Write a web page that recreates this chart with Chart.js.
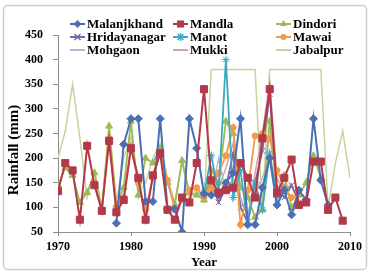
<!DOCTYPE html>
<html><head><meta charset="utf-8">
<script src="https://cdn.jsdelivr.net/npm/chart.js@4/dist/chart.umd.min.js"></script>
<style>html,body{margin:0;padding:0;background:#fff;}#wrap{position:relative;width:371px;height:275px;}</style>
</head><body><div id="wrap"><canvas id="c" width="371" height="275"></canvas></div>
<script>
const years = [1970,1971,1972,1973,1974,1975,1976,1977,1978,1979,1980,1981,1982,1983,1984,1985,1986,1987,1988,1989,1990,1991,1992,1993,1994,1995,1996,1997,1998,1999,2000,2001,2002,2003,2004,2005,2006,2007,2008,2009,2010];
const yTicks = [50,100,150,200,250,300,350,400,450];
const xTicks = [1970,1980,1990,2000,2010];
const seriesNames = ["Malanjkhand","Mandla","Dindori","Hridayanagar","Manot","Mawai","Mohgaon","Mukki","Jabalpur"];
const malanjkhand = [null,null,null,null,null,null,null,null,68,228,280,280,112,112,280,97,97,50,280,220,128,125,125,150,170,280,65,65,140,200,105,135,85,135,115,280,155,105,null,null,null];
const mandla = [133,190,175,75,225,145,93,235,90,115,220,160,75,165,210,95,75,120,110,190,340,155,130,135,140,190,160,120,240,340,130,160,197,105,110,193,193,95,120,73,null];
const dindori = [145,180,165,110,130,170,95,265,105,140,275,125,200,190,220,150,105,195,130,125,115,175,150,275,250,140,120,80,95,275,125,165,100,125,150,205,160,null,null,null,null];
const hridayanagar = [null,null,null,null,null,null,null,null,null,null,null,null,null,null,null,null,null,null,null,null,130,150,110,140,210,100,70,150,215,330,140,120,145,110,null,null,null,null,null,null,null];
const manot = [null,null,null,null,null,null,null,null,null,null,null,null,null,null,null,null,null,null,null,null,125,205,130,400,120,175,65,150,95,210,120,140,null,null,null,null,null,null,null,null,null];
const mawai = [null,null,null,null,null,150,95,240,100,120,225,150,95,160,210,155,95,115,135,140,120,140,170,205,262,65,135,245,250,240,175,140,120,null,null,null,null,null,null,null,null];
const mohgaon = [null,null,null,null,null,null,null,null,null,null,null,null,null,null,null,null,null,null,null,null,150,120,200,130,160,110,90,130,160,200,100,150,null,null,null,null,null,null,null,null,null];
const mukki = [null,null,null,null,null,null,null,null,null,null,null,null,null,null,null,null,null,null,null,null,null,null,140,180,230,120,80,170,250,355,160,130,150,null,null,null,null,null,null,null,null];
const jabalpur = [200,255,350,240,120,175,100,250,110,200,245,130,150,200,230,160,110,195,115,140,110,380,380,380,380,380,380,380,90,380,380,380,380,380,380,380,380,100,190,255,160];

const styles = [
  {color:'#4A6FB5', point:'diamond', r:4, w:2, order:2},
  {color:'#B3394A', point:'square', r:5, w:2, order:1},
  {color:'#9BBB59', point:'triangle', r:4, w:1.8, order:5},
  {color:'#7E64A0', point:'x', r:4, w:1.8, order:6},
  {color:'#3FA8C0', point:'star', r:4, w:1.8, order:3},
  {color:'#F39A4A', point:'circle', r:3, w:1.8, order:4},
  {color:'#A9BCDB', point:'none', r:0, w:1.5, order:7},
  {color:'#D5A4A3', point:'none', r:0, w:1.5, order:8},
  {color:'#C6D49C', point:'none', r:0, w:1.5, order:9}
];
const values = [malanjkhand, mandla, dindori, hridayanagar, manot, mawai, mohgaon, mukki, jabalpur];
const cjsStyle = {diamond:'rectRot', square:'rect', triangle:'triangle', x:'crossRot', star:'star', circle:'circle', none:false};

const datasets = values.map((vals, i) => {
  const s = styles[i];
  return {
    label: seriesNames[i],
    data: years.map((y, k) => ({x: y, y: vals[k]})),
    borderColor: s.color,
    backgroundColor: s.color,
    borderWidth: s.w,
    pointStyle: cjsStyle[s.point],
    pointRadius: s.r,
    pointBorderWidth: 1,
    pointBorderColor: s.color,
    pointBackgroundColor: s.color,
    spanGaps: false,
    tension: 0,
    order: s.order
  };
});

function drawMarker(ctx, type, x, y, r, color) {
  ctx.save();
  ctx.fillStyle = color; ctx.strokeStyle = color; ctx.lineWidth = 1.5;
  ctx.beginPath();
  if (type === 'square') { const a = r * Math.SQRT1_2; ctx.rect(x - a, y - a, 2 * a, 2 * a); ctx.fill(); }
  else if (type === 'diamond') { ctx.moveTo(x, y - r); ctx.lineTo(x + r, y); ctx.lineTo(x, y + r); ctx.lineTo(x - r, y); ctx.closePath(); ctx.fill(); }
  else if (type === 'triangle') { ctx.moveTo(x, y - r); ctx.lineTo(x + r * 0.87, y + r * 0.5); ctx.lineTo(x - r * 0.87, y + r * 0.5); ctx.closePath(); ctx.fill(); }
  else if (type === 'circle') { ctx.arc(x, y, r, 0, Math.PI * 2); ctx.fill(); }
  else if (type === 'x') { const a = r * 0.75; ctx.moveTo(x - a, y - a); ctx.lineTo(x + a, y + a); ctx.moveTo(x + a, y - a); ctx.lineTo(x - a, y + a); ctx.stroke(); }
  else if (type === 'star') { const a = r * 0.75; ctx.moveTo(x - a, y - a); ctx.lineTo(x + a, y + a); ctx.moveTo(x + a, y - a); ctx.lineTo(x - a, y + a); ctx.moveTo(x, y - r); ctx.lineTo(x, y + r); ctx.stroke(); }
  ctx.restore();
}

const decor = {
  id: 'decor',
  beforeDraw(chart) {
    const ctx = chart.ctx;
    ctx.save();
    ctx.fillStyle = '#fff'; ctx.fillRect(0, 0, chart.width, chart.height);
    ctx.strokeStyle = '#C9CDD0'; ctx.lineWidth = 1.5;
    ctx.beginPath();
    if (ctx.roundRect) ctx.roundRect(3.5, 5.5, 363, 264, 4); else ctx.rect(3.5, 5.5, 363, 264);
    ctx.stroke();
    ctx.restore();
  },
  afterDraw(chart) {
    const ctx = chart.ctx;
    ctx.save();
    // y-axis title
    ctx.translate(14, 150);
    ctx.rotate(-Math.PI / 2);
    ctx.font = 'bold 15px "Liberation Serif"';
    ctx.fillStyle = '#000'; ctx.textAlign = 'center'; ctx.textBaseline = 'middle';
    ctx.fillText('Rainfall (mm)', 0, 0);
    ctx.restore();
    // legend
    const colX = [70, 173, 276];
    const rowY = [24, 37, 50];
    ctx.save();
    ctx.font = 'bold 13px "Liberation Serif"';
    ctx.textBaseline = 'middle'; ctx.textAlign = 'left'; 
    seriesNames.forEach((name, i) => {
      const s = styles[i];
      const x = colX[i % 3], y = rowY[Math.floor(i / 3)];
      ctx.strokeStyle = s.color; ctx.lineWidth = 2;
      ctx.beginPath(); ctx.moveTo(x, y); ctx.lineTo(x + 15, y); ctx.stroke();
      if (s.point !== 'none') drawMarker(ctx, s.point, x + 7.5, y, s.r, s.color);
      ctx.fillStyle = '#000';
      ctx.fillText(name, x + 17, y + 0.5);
    });
    ctx.restore();
  }
};

new Chart(document.getElementById('c'), {
  type: 'line',
  data: { datasets },
  options: {
    responsive: false,
    animation: false,
    events: [],
    layout: { padding: { top: 35, right: 21, bottom: 5, left: 0 } },
    plugins: { legend: { display: false }, tooltip: { enabled: false } },
    scales: {
      x: {
        type: 'linear', min: 1970, max: 2010,
        afterBuildTicks: s => { s.ticks = xTicks.map(v => ({value: v})); },
        afterFit: s => { s.height = 38; },
        ticks: { color: '#000', font: { family: 'Liberation Serif', size: 12, weight: 'bold' }, padding: 4, maxRotation: 0, callback: v => String(v) },
        grid: { drawOnChartArea: false, drawTicks: true, tickLength: 4, color: '#8C8C8C' },
        border: { display: true, color: '#8C8C8C', width: 1 },
        title: { display: true, text: 'Year', color: '#000', font: { family: 'Liberation Serif', size: 13, weight: 'bold' }, padding: { top: 0, bottom: 0 } }
      },
      y: {
        type: 'linear', min: 50, max: 450,
        afterBuildTicks: s => { s.ticks = yTicks.map(v => ({value: v})); },
        afterFit: s => { s.width = 58; },
        ticks: { color: '#000', font: { family: 'Liberation Serif', size: 12, weight: 'bold' }, padding: 10, callback: v => String(v) },
        grid: { drawOnChartArea: false, drawTicks: true, tickLength: 5, color: '#8C8C8C' },
        border: { display: true, color: '#8C8C8C', width: 1 }
      }
    }
  },
  plugins: [decor]
});
</script>
</body></html>
